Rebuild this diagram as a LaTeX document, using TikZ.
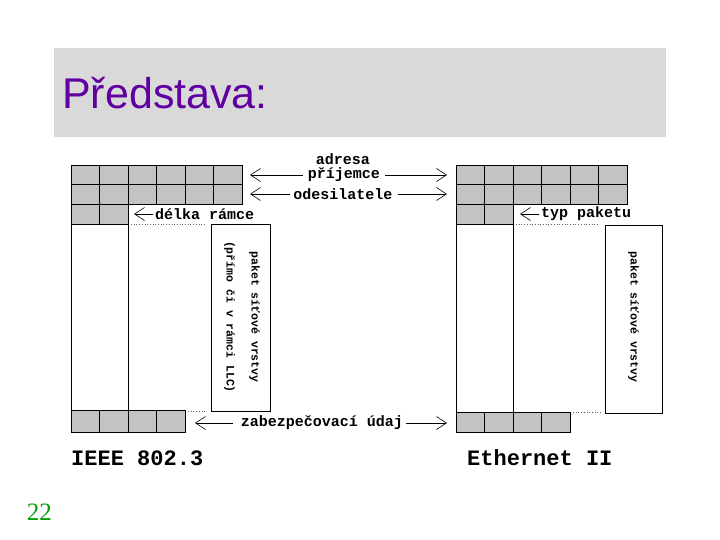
\documentclass[tikz,border=0pt]{standalone}
\usepackage{fontspec}
\setmainfont{Liberation Sans}
\newfontfamily\framefont{Liberation Mono}
\newfontfamily\pagefont{Liberation Serif}
\usepackage{tikz}
\usetikzlibrary{arrows.meta, positioning}
\definecolor{SlideGray}{RGB}{217, 217, 217}
\definecolor{SlidePurple}{RGB}{96, 0, 160}
\definecolor{SlideGreen}{RGB}{0, 160, 0}
\definecolor{HatchGray}{RGB}{195, 195, 195}

\tikzset{
  cell/.style={draw=black, fill=HatchGray, line width=0.7pt},
  wall/.style={draw=black, line width=0.7pt},
  fieldlbl/.style={font=\framefont\bfseries\fontsize{15}{15}\selectfont, inner sep=0pt},
  pointer/.style={-{Straight Barb[length=10pt,width=13pt]}, line width=0.6pt},
  gapline/.style={dotted, line width=0.7pt, black!60},
  payloadtxt/.style={font=\framefont\bfseries\fontsize{11.5}{25}\selectfont, align=center, rotate=-90, inner sep=0pt},
  framename/.style={font=\framefont\bfseries\fontsize{22}{22}\selectfont, anchor=west, inner sep=0pt},
}

\begin{document}
\begin{tikzpicture}[x=1pt, y=-1pt]
  \useasboundingbox (0,0) rectangle (720,540);

  % title bar
  \fill[SlideGray] (54,48) rectangle (666,137);
  \node[anchor=base west, inner sep=0pt, text=SlidePurple,
        font=\fontsize{43}{43}\selectfont] (title) at (62,109) {Představa:};

  % IEEE 802.3 frame
  \foreach \c in {0,...,5}
    \foreach \r in {0,1}
      \draw[cell] ({71+28.5*\c},{165+19.67*\r}) rectangle ++(28.5,19.67);
  \foreach \c in {0,1}
    \draw[cell] ({71+28.5*\c},204.3) rectangle ++(28.5,19.67);
  \draw[wall] (71,224) -- (71,410) (128,224) -- (128,410);
  \foreach \c in {0,...,3}
    \draw[cell] ({71+28.5*\c},410) rectangle ++(28.5,22);
  \draw[gapline] (131,224) -- (206,224);
  \draw[gapline] (188,411) -- (206,411);
  \draw[wall] (211,224) rectangle (270,411);
  \node[payloadtxt] (ieeedata) at (242,317) {paket síťové vrstvy\\(přímo či v rámci LLC)};

  % Ethernet II frame
  \foreach \c in {0,...,5}
    \foreach \r in {0,1}
      \draw[cell] ({456+28.5*\c},{165+19.67*\r}) rectangle ++(28.5,19.67);
  \foreach \c in {0,1}
    \draw[cell] ({456+28.5*\c},204.3) rectangle ++(28.5,19.67);
  \draw[wall] (456,224) -- (456,412) (513,224) -- (513,412);
  \foreach \c in {0,...,3}
    \draw[cell] ({456+28.5*\c},412) rectangle ++(28.5,20);
  \draw[gapline] (516,224) -- (599,224);
  \draw[gapline] (573,412) -- (601,412);
  \draw[wall] (605,225) rectangle (662,413);
  \node[payloadtxt] (ethdata) at (633.5,317) {paket síťové vrstvy};

  % field labels
  \coordinate (ieee-dst) at (250,175);
  \coordinate (eth-dst) at (447,175);
  \coordinate (ieee-src) at (250,194);
  \coordinate (eth-src) at (447,194);
  \coordinate (ieee-len) at (134,214);
  \coordinate (eth-type) at (520,214);
  \coordinate (ieee-fcs) at (195,423);
  \coordinate (eth-fcs) at (447,423);

  \node[fieldlbl] (adresa) at (343,159.5) {adresa};
  \node[fieldlbl] (dst) at (344,175) {příjemce};
  \node[fieldlbl] (src) at (343,194) {odesilatele};
  \node[fieldlbl, anchor=west] (len) at (155,214) {délka rámce};
  \node[fieldlbl, anchor=west] (type) at (541,214) {typ paketu};
  \node[fieldlbl] (fcs) at (322,423) {zabezpečovací údaj};

  \draw[pointer] ([xshift=-5pt]dst.west) -- (ieee-dst);
  \draw[pointer] ([xshift=5pt]dst.east) -- (eth-dst);
  \draw[pointer] ([xshift=-3pt]src.west) -- (ieee-src);
  \draw[pointer] ([xshift=5pt]src.east) -- (eth-src);
  \draw[pointer] ([xshift=-2pt]len.west) -- (ieee-len);
  \draw[pointer] ([xshift=-2pt]type.west) -- (eth-type);
  \draw[pointer] ([xshift=-8pt]fcs.west) -- (ieee-fcs);
  \draw[pointer] ([xshift=3pt]fcs.east) -- (eth-fcs);

  \node[framename] (ieee) at (71,458) {IEEE 802.3};
  \node[framename] (eth) at (467,458) {Ethernet II};

  % slide number
  \node[text=SlideGreen, font=\pagefont\fontsize{25}{25}\selectfont, inner sep=0pt] (num) at (39.5,512) {22};
\end{tikzpicture}
\end{document}
